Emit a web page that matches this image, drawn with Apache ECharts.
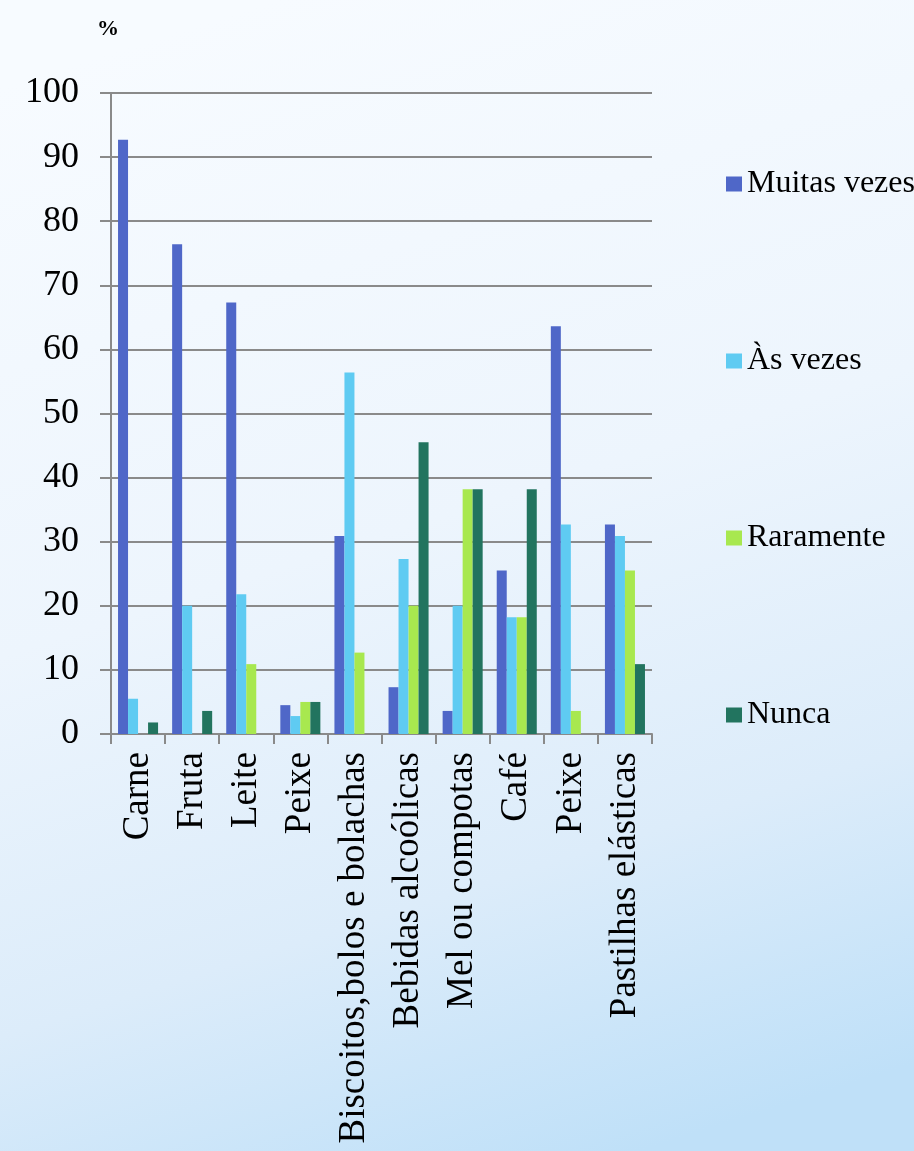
<!DOCTYPE html>
<html>
<head>
<meta charset="utf-8">
<title>Frequência de consumo</title>
<script src="https://cdn.jsdelivr.net/npm/echarts@6/dist/echarts.min.js"></script>
<style>
  html, body { margin: 0; padding: 0; }
  #chart { width: 914px; height: 1151px; }
</style>
</head>
<body>
<div id="chart"></div>
<script>
// Food categories along the x axis
const categories = ['Carne', 'Fruta', 'Leite', 'Peixe', 'Biscoitos,bolos e bolachas',
  'Bebidas alcoólicas', 'Mel ou compotas', 'Café', 'Peixe', 'Pastilhas elásticas'];

// Percentages per answer
const muitasVezes = [92.7, 76.4, 67.3, 4.5, 30.9, 7.3, 3.6, 25.5, 63.6, 32.7];
const asVezes     = [5.5, 20.0, 21.8, 2.8, 56.4, 27.3, 20.0, 18.2, 32.7, 30.9];
const raramente   = [0, 0, 10.9, 5.0, 12.7, 20.0, 38.2, 18.2, 3.6, 25.5];
const nunca       = [1.8, 3.6, 0, 5.0, 0, 45.5, 38.2, 38.2, 0, 10.9];

const seriesNames = ['Muitas vezes', 'Às vezes', 'Raramente', 'Nunca'];
const seriesColors = ['#4F67C8', '#5FCBF2', '#A8E84F', '#22745F'];
const seriesValues = [muitasVezes, asVezes, raramente, nunca];

const serif = '"Liberation Serif", "DejaVu Serif", serif';
const gray = '#8a8a8a';

const chart = echarts.init(document.getElementById('chart'), null, { renderer: 'canvas' });

chart.setOption({
  animation: false,
  backgroundColor: {
    type: 'linear', x: 0.3, y: 0, x2: 0.7, y2: 1,
    colorStops: [
      { offset: 0, color: '#f7fbff' },
      { offset: 0.45, color: '#edf5fd' },
      { offset: 0.75, color: '#dcecfa' },
      { offset: 1, color: '#bfe0f8' }
    ]
  },
  title: {
    text: '%',
    left: 92, top: 13,
    textStyle: { fontFamily: serif, fontSize: 22, fontWeight: 'bold', color: '#000' }
  },
  legend: {
    orient: 'vertical',
    left: 721, top: 163,
    itemWidth: 16, itemHeight: 15,
    itemGap: 145,
    icon: 'rect',
    data: seriesNames,
    textStyle: { fontFamily: serif, fontSize: 32, lineHeight: 32, color: '#000' }
  },
  grid: { left: 111, top: 93, right: 262, bottom: 417, containLabel: false },
  xAxis: {
    type: 'category',
    data: categories,
    axisLine: { lineStyle: { color: gray, width: 2 } },
    axisTick: { show: true, length: 10, alignWithLabel: false, lineStyle: { color: gray, width: 2 } },
    axisLabel: {
      interval: 0, rotate: 90, margin: 18,
      fontFamily: serif, fontSize: 37, color: '#000'
    }
  },
  yAxis: {
    type: 'value',
    min: 0, max: 100, interval: 10,
    axisLine: { show: true, lineStyle: { color: gray, width: 2 } },
    axisTick: { show: true, length: 11, lineStyle: { color: gray, width: 2 } },
    axisLabel: { margin: 32, padding: [5, 0, 0, 0], fontFamily: serif, fontSize: 36, color: '#000' },
    splitLine: { show: true, lineStyle: { color: gray, width: 2 } }
  },
  series: seriesNames.map((name, i) => ({
    name: name,
    type: 'bar',
    data: seriesValues[i],
    itemStyle: { color: seriesColors[i] },
    barGap: '0%',
    barCategoryGap: '26%'
  }))
});
</script>
</body>
</html>
